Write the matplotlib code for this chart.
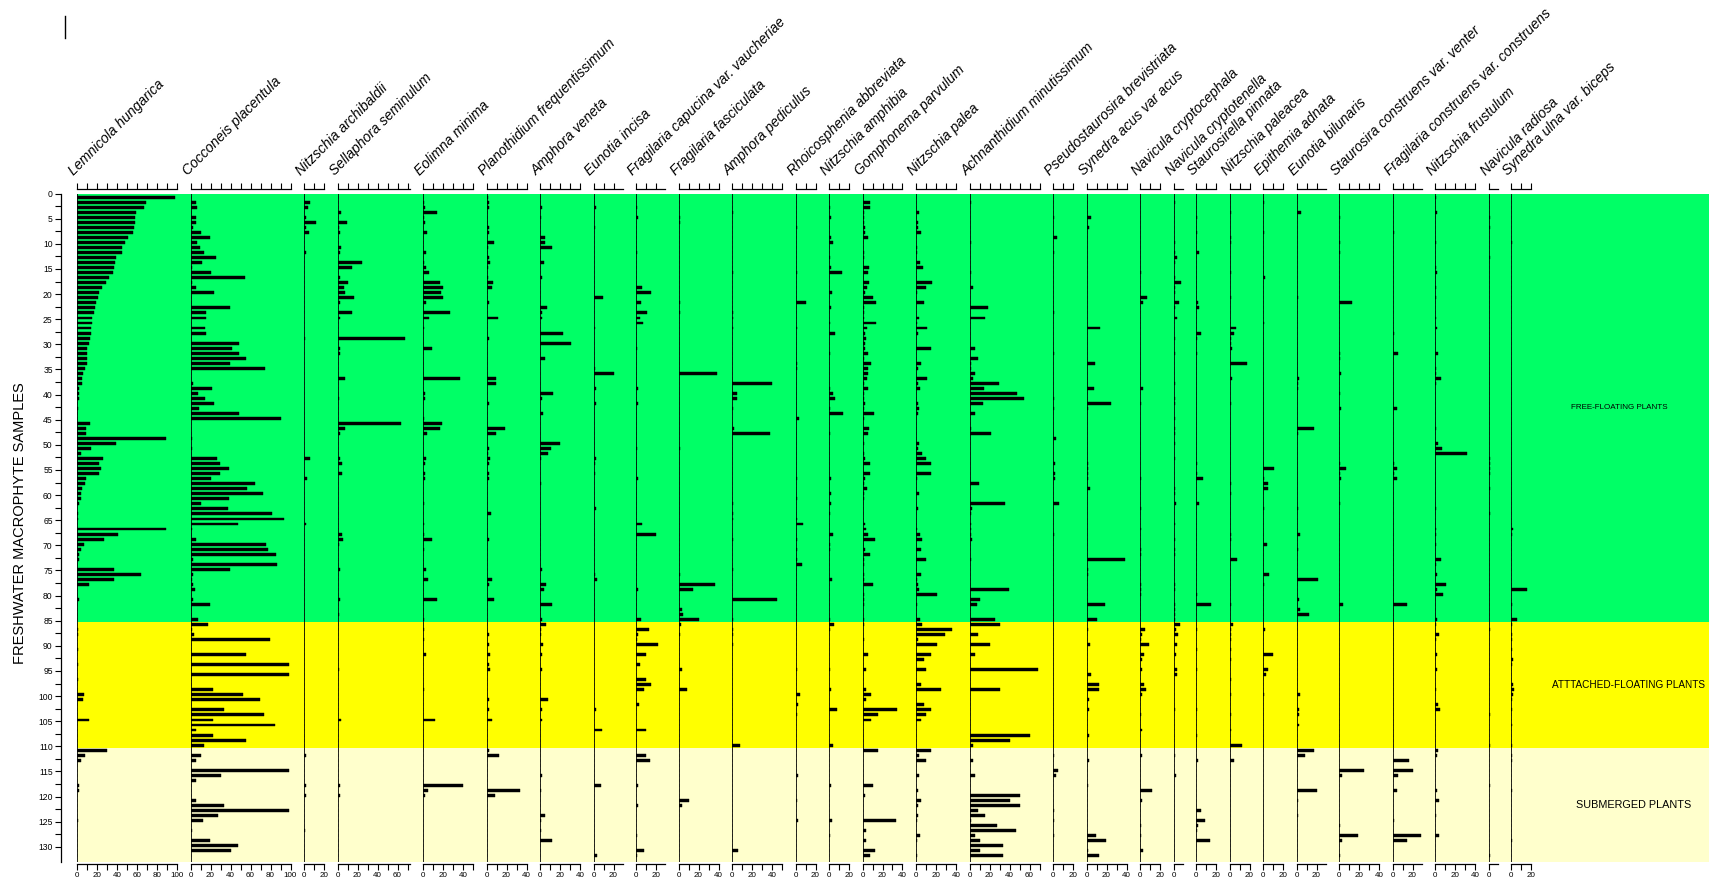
import numpy as np
import matplotlib.pyplot as plt
from matplotlib.lines import Line2D

plt.rcParams['font.family'] = ['Liberation Sans', 'DejaVu Sans']

# samples 1..132, habitat groups end at these sample numbers
n_samples = 132
samples = np.arange(1, n_samples + 1)
habitats = ['FREE-FLOATING PLANTS', 'ATTTACHED-FLOATING PLANTS', 'SUBMERGED PLANTS']
habitat_last = [85, 110, 132]
habitat_colors = ['#00ff66', '#ffff00', '#ffffcc']

taxa = ['Lemnicola hungarica', 'Cocconeis placentula', 'Nitzschia archibaldii',
        'Sellaphora seminulum', 'Eolimna minima', 'Planothidium frequentissimum',
        'Amphora veneta', 'Eunotia incisa', 'Fragilaria capucina var. vaucheriae',
        'Fragilaria fasciculata', 'Amphora pediculus', 'Rhoicosphenia abbreviata',
        'Nitzschia amphibia', 'Gomphonema parvulum', 'Nitzschia palea',
        'Achnanthidium minutissimum', 'Pseudostaurosira brevistriata',
        'Synedra acus var acus', 'Navicula cryptocephala', 'Navicula cryptotenella',
        'Staurosirella pinnata', 'Nitzschia paleacea', 'Epithemia adnata',
        'Eunotia bilunaris', 'Staurosira construens var. venter',
        'Fragilaria construens var. construens', 'Nitzschia frustulum',
        'Navicula radiosa', 'Synedra ulna var. biceps']

# axis length of each panel (percent)
ranges = [100, 100, 20, 72, 50, 40, 40, 29, 29, 40, 50, 20, 20, 40, 40, 70,
          20, 40, 20, 9, 20, 20, 20, 29, 40, 29, 40, 9, 20]

# relative abundance (%) per sample, zero where not listed
lemnicola = {1: 97.7, 2: 68.7, 3: 66.7, 4: 59.3, 5: 58, 6: 57.7, 7: 57, 8: 56.3, 9: 50.7, 10: 48.3,
             11: 45.3, 12: 44.7, 13: 38.7, 14: 37.7, 15: 36.7, 16: 35.7, 17: 32.3, 18: 29.3, 19: 25.3,
             20: 21.7, 21: 20.7, 22: 19.3, 23: 18.3, 24: 17.3, 25: 15.3, 26: 14.7, 27: 14.3, 28: 13.7,
             29: 12.7, 30: 12, 31: 10.3, 32: 10.3, 33: 10.3, 34: 10.3, 35: 8.3, 36: 6.3, 37: 5, 38: 5,
             39: 2.3, 40: 2.3, 41: 2.3, 43: 1.3, 46: 12.7, 47: 9.3, 48: 9.3, 49: 88.7, 50: 39.3,
             51: 13.7, 52: 4, 53: 26, 54: 21.7, 55: 24.3, 56: 21.7, 57: 9.3, 58: 7.7, 59: 5, 60: 4,
             61: 4, 62: 2.3, 64: 1, 65: 1, 67: 88.7, 68: 41.3, 69: 27, 70: 7.3, 71: 4, 72: 2.3, 73: 2,
             75: 36.7, 76: 64, 77: 36.7, 78: 12, 81: 2, 87: 1.3, 88: 1.3, 91: 1, 94: 1, 97: 1,
             100: 7, 101: 6, 105: 12, 111: 30, 112: 8, 113: 4, 118: 2, 119: 2, 125: 1}
cocconeis = {2: 5.3, 3: 6.3, 5: 5.7, 6: 5.3, 7: 2, 8: 10, 9: 19, 10: 6, 11: 9.3, 12: 13.3, 13: 25,
             14: 11, 15: 1.3, 16: 20.3, 17: 54, 18: 1, 19: 5.3, 20: 23.3, 23: 39, 24: 15, 25: 15,
             27: 14, 28: 15, 30: 48, 31: 41.7, 32: 48.7, 33: 55, 34: 39, 35: 74.3, 38: 2.7, 39: 21.3,
             40: 7, 41: 14.3, 42: 23, 43: 8, 44: 48.7, 45: 90, 49: 1, 51: 1.7, 53: 26, 54: 29, 55: 38,
             56: 29, 57: 20.3, 58: 64.7, 59: 56.7, 60: 72.3, 61: 38, 62: 10.7, 63: 37.3, 64: 81,
             65: 93.7, 66: 47, 67: 1, 69: 5.3, 70: 75, 71: 77, 72: 85.7, 73: 2, 74: 86.7, 75: 39,
             76: 2, 77: 1, 78: 2, 79: 4.7, 81: 2.7, 82: 19.7, 85: 7, 86: 17, 87: 1, 88: 3.7, 89: 79.3,
             92: 55, 94: 98, 96: 98, 99: 22, 100: 52, 101: 69, 103: 33, 104: 73, 105: 22, 106: 84,
             107: 5, 108: 22, 109: 55, 110: 13, 112: 10, 113: 5, 115: 98, 116: 30, 117: 5, 121: 5,
             122: 33, 123: 98, 124: 27, 125: 12.6, 127: 1.5, 129: 19.7, 130: 47, 131: 40.5}
archibaldii = {2: 5.7, 3: 3.7, 5: 2, 6: 12, 7: 2, 8: 4.7, 12: 2, 29: 1.3, 53: 5.7, 57: 3, 66: 2,
               112: 2, 118: 2, 120: 2, 127: 1}
sellaphora = {4: 3.3, 6: 9.3, 7: 1.3, 8: 2, 11: 3.3, 12: 2, 14: 24.7, 15: 14, 17: 2, 18: 10.7,
              19: 6.3, 20: 7, 21: 16.7, 22: 2, 24: 14, 25: 2, 29: 67, 31: 2, 32: 2, 37: 7, 41: 1.3,
              46: 63.3, 47: 7.7, 48: 2, 53: 2, 54: 4, 56: 4, 68: 4, 69: 5.7, 70: 1.3, 75: 2, 81: 2,
              84: 1.3, 95: 1, 105: 3, 118: 2, 120: 2}
eolimna = {2: 1.3, 3: 1.7, 4: 14, 5: 1, 6: 2.3, 8: 4, 12: 2.7, 14: 1.3, 15: 3, 16: 6, 18: 17.3,
           19: 19.7, 20: 18, 21: 19.7, 22: 2.7, 24: 27, 25: 6, 27: 1.3, 31: 9.3, 37: 37, 40: 2, 41: 2,
           45: 1.3, 46: 19, 47: 17.3, 48: 4, 53: 2.7, 54: 2, 56: 2, 57: 2, 62: 1, 66: 1, 68: 1,
           69: 9.3, 71: 1.3, 75: 2.7, 77: 4.7, 81: 14, 85: 1.3, 87: 1.3, 89: 1.3, 92: 3, 99: 1,
           105: 12, 118: 40, 119: 5, 120: 2}
planothidium = {1: 1, 2: 2, 3: 2, 4: 0.7, 7: 2, 8: 2, 10: 7.7, 11: 1, 13: 2, 14: 3, 15: 1.7, 17: 1,
                18: 6.7, 19: 5, 22: 2, 25: 11, 27: 0.7, 29: 2, 32: 0.7, 34: 0.7, 37: 9, 38: 9, 41: 0.7,
                42: 2, 47: 18, 48: 9, 49: 0.7, 51: 2, 52: 1.7, 53: 3, 54: 2, 56: 2, 57: 2, 64: 4,
                66: 0.7, 69: 2, 70: 0.7, 71: 0.7, 77: 5.7, 78: 2, 81: 7.3, 87: 0.7, 88: 2, 90: 2, 92: 3,
                94: 2, 95: 3, 101: 2, 103: 2, 105: 5, 111: 2, 112: 12, 119: 33, 120: 8}
amphora_veneta = {3: 1.7, 5: 1, 9: 5, 10: 5, 11: 12, 14: 4, 17: 2, 23: 6.7, 24: 2, 25: 2, 28: 23.3,
                  30: 31.3, 33: 5, 40: 13, 41: 2, 44: 3.3, 50: 20, 51: 11, 52: 8.3, 53: 1, 58: 1,
                  75: 2, 78: 5.7, 79: 4, 82: 12, 85: 2, 86: 5.7, 87: 1, 88: 1, 90: 3, 92: 2, 95: 2,
                  101: 8, 103: 2, 105: 2, 116: 2, 119: 1, 124: 5, 125: 1, 127: 1, 129: 11.5}
eunotia_incisa = {3: 2, 7: 1, 21: 9, 27: 1, 35: 1, 36: 20.7, 39: 2, 42: 2, 53: 2, 54: 1, 56: 1,
                  63: 2, 76: 1, 77: 3.7, 103: 2, 107: 8, 118: 7, 132: 3}
frag_capucina = {3: 1, 5: 1.7, 12: 1, 19: 5.7, 20: 14.7, 22: 4.7, 24: 10.7, 25: 3.7, 26: 6.7, 31: 1,
                 39: 1.7, 42: 1.7, 51: 1, 57: 1.7, 66: 5.7, 68: 19.7, 79: 1.7, 85: 4.7, 87: 12.7,
                 88: 1.7, 89: 0.7, 90: 22, 92: 10, 94: 4, 97: 10, 98: 15, 99: 8, 102: 3, 107: 10,
                 112: 10, 113: 14, 118: 2, 122: 2, 128: 1, 131: 8, 132: 1}
frag_fasciculata = {5: 1.3, 6: 1.7, 22: 1, 24: 1, 36: 38.3, 51: 1, 76: 1, 78: 36.3, 79: 14.3,
                    83: 3.7, 84: 4.3, 85: 20.3, 86: 2.7, 88: 1, 95: 3, 99: 8, 121: 10, 122: 3}
amphora_pediculus = {4: 1, 16: 1, 24: 0.7, 25: 0.7, 27: 0.7, 38: 40.3, 40: 5, 41: 5, 43: 1, 47: 2,
                     48: 37.7, 62: 1, 64: 1, 65: 0.7, 69: 0.7, 75: 1, 81: 44.7, 85: 0.7, 87: 0.7,
                     88: 0.7, 90: 1, 110: 8, 131: 5.5}
rhoicosphenia = {7: 1.7, 16: 1.7, 22: 10, 27: 1.7, 34: 1.7, 35: 1.7, 36: 0.7, 45: 3, 57: 1.7, 61: 1,
                 65: 1.7, 66: 7, 69: 1.7, 71: 1, 73: 1.7, 74: 6.3, 75: 0.7, 95: 1, 100: 4, 102: 2,
                 104: 1, 116: 2, 121: 1, 125: 2}
n_amphibia = {3: 1, 5: 1.7, 9: 2.3, 10: 4.3, 13: 1, 15: 1.7, 16: 13.3, 20: 2.7, 23: 1.7, 26: 1,
              28: 6, 32: 1, 39: 0.7, 40: 4, 41: 6, 43: 1, 44: 14, 48: 0.7, 57: 2.3, 60: 1.7, 62: 1.7,
              64: 1, 68: 4.3, 70: 1.3, 71: 1, 77: 3.3, 85: 1, 86: 5, 87: 0.7, 95: 1, 99: 2, 103: 8,
              110: 4, 118: 2, 125: 3, 128: 1}
gomphonema = {2: 7.3, 3: 7.3, 4: 1, 5: 1.7, 6: 1.7, 7: 2.7, 8: 2.7, 9: 5, 12: 1.7, 13: 1.7, 15: 6.7,
              16: 5, 18: 6.7, 19: 4, 20: 2.7, 21: 10, 22: 13, 23: 1.7, 24: 1.7, 25: 1, 26: 13.7,
              27: 4, 28: 2.7, 29: 3.3, 30: 2.7, 31: 2.7, 32: 5.7, 33: 1.7, 34: 8.3, 35: 5.7, 36: 5,
              37: 4, 38: 1, 39: 5.7, 40: 1.7, 41: 1.7, 42: 2.3, 43: 1, 44: 11, 45: 1.7, 47: 6.7,
              48: 5, 50: 1.7, 52: 1.7, 53: 2.7, 54: 7.3, 56: 7.3, 57: 2.7, 58: 1.7, 59: 4, 60: 1.7,
              61: 1.7, 66: 2.7, 67: 3.3, 68: 5, 69: 12, 71: 2.7, 72: 7.3, 73: 1.7, 74: 1.7, 76: 1.7,
              77: 1.7, 78: 10, 80: 1, 81: 1, 82: 1.7, 85: 1.7, 86: 1.7, 89: 1.7, 92: 5, 95: 3, 99: 3,
              100: 8, 101: 3, 103: 35, 104: 15, 105: 8, 111: 15, 118: 10, 120: 2, 125: 34, 127: 3,
              129: 3, 131: 12, 132: 7}
n_palea = {4: 3, 6: 1.7, 7: 1.7, 8: 5, 11: 1, 12: 1, 14: 4, 15: 7.3, 18: 16, 19: 10, 20: 1, 22: 8,
           25: 3, 26: 1, 27: 11, 28: 2, 31: 15.3, 34: 5, 35: 1.7, 37: 11, 38: 1.7, 39: 4, 42: 2,
           43: 3, 44: 2, 50: 2.7, 51: 1.7, 52: 6, 53: 10, 54: 15.3, 56: 15.3, 57: 1, 60: 2.7,
           63: 1.7, 67: 1, 68: 3.7, 69: 5.7, 71: 4.7, 73: 10, 76: 4.7, 77: 1, 78: 2, 79: 2.7,
           80: 21.3, 82: 1, 85: 3.7, 86: 5.7, 87: 36.3, 88: 29.3, 89: 2, 90: 20.7, 92: 15, 93: 8,
           95: 10, 98: 5, 99: 25, 102: 8, 103: 15, 104: 10, 105: 5, 111: 15, 112: 3, 113: 10,
           116: 3, 119: 2, 121: 5, 122: 2, 124: 2, 125: 1, 128: 4.4, 129: 1, 132: 1}
achnanthidium = {2: 1.7, 10: 1.3, 16: 1.3, 19: 3.3, 23: 18.7, 25: 15, 31: 5.3, 33: 8.7, 34: 1.7,
                 35: 1.3, 36: 5.3, 37: 3.7, 38: 29.3, 39: 14.3, 40: 47.7, 41: 54, 42: 13.3, 44: 5.3,
                 47: 1.3, 48: 21.3, 54: 0.7, 56: 0.7, 58: 9.7, 62: 35.3, 63: 2.7, 64: 1.7, 66: 1.3,
                 67: 1.3, 68: 1.3, 69: 2.3, 72: 0.7, 73: 1.3, 78: 0.7, 79: 39.7, 81: 10.7, 82: 7.7,
                 85: 25.7, 86: 30, 87: 0.7, 88: 8, 89: 0.7, 90: 20, 92: 5, 95: 68, 99: 30, 108: 60,
                 109: 40, 110: 3, 113: 3, 116: 5, 120: 50, 121: 40, 122: 50, 123: 8, 124: 15,
                 125: 1, 126: 27, 127: 46, 128: 5, 129: 10, 130: 33, 131: 10, 132: 33}
pseudostaurosira = {5: 0.7, 9: 4.3, 12: 0.7, 24: 0.7, 32: 0.7, 41: 0.7, 43: 1.3, 49: 3.3, 54: 1.7,
                    56: 1.7, 57: 2.3, 62: 6, 68: 0.7, 112: 1, 115: 5, 116: 3, 123: 1, 125: 1,
                    128: 1}
synedra_acus = {5: 4.7, 7: 2.7, 14: 0.7, 17: 0.7, 19: 0.7, 26: 0.7, 27: 13.3, 34: 8, 39: 7.3,
                42: 24, 43: 1.3, 54: 1.7, 55: 1, 56: 1, 57: 1, 59: 3.3, 66: 0.7, 70: 0.7, 73: 38,
                75: 1, 76: 1, 82: 18.7, 85: 10.3, 87: 1.3, 90: 3, 96: 4, 98: 12, 99: 12, 101: 2,
                103: 2, 108: 2, 113: 2, 118: 1, 128: 9, 129: 19, 131: 1, 132: 12}
nav_cryptocephala = {16: 0.7, 21: 7, 22: 2.7, 39: 2.7, 42: 1.3, 57: 0.7, 63: 0.5, 67: 0.5, 71: 0.5,
                     72: 0.5, 78: 1, 79: 1, 80: 0.7, 87: 5, 88: 1.7, 89: 1.3, 90: 8.7, 92: 4, 93: 2,
                     95: 2, 98: 4, 99: 6, 100: 2, 104: 1, 107: 2, 112: 2, 119: 12, 121: 2, 126: 1,
                     128: 0.7, 131: 3}
nav_cryptotenella = {2: 1, 10: 1, 12: 1.3, 13: 3, 14: 1.7, 17: 1, 18: 7, 19: 1.7, 20: 1, 22: 5.7,
                     23: 1, 25: 3, 29: 1.7, 32: 1, 38: 1.7, 41: 1, 42: 1.7, 45: 1, 47: 1, 48: 1.7,
                     50: 1, 53: 1.7, 59: 1, 60: 1.3, 62: 2, 64: 0.7, 65: 0.7, 66: 1, 69: 1.3, 71: 1,
                     72: 1, 78: 1, 79: 1, 82: 1, 83: 1, 84: 1, 85: 1, 86: 6.7, 87: 2, 88: 4.7, 90: 3,
                     92: 2, 95: 3, 96: 3, 103: 1, 112: 1, 116: 2, 127: 0.7, 129: 0.7, 130: 0.7}
staurosirella = {5: 1, 8: 1.3, 12: 3, 22: 1.7, 23: 2.7, 28: 5.3, 29: 1, 32: 1.3, 54: 1, 56: 1,
                 57: 6.7, 62: 3, 80: 1, 82: 14.7, 87: 1.3, 91: 1, 95: 1, 103: 1, 108: 1, 113: 2,
                 123: 5, 125: 9, 126: 1.5, 127: 1, 129: 14}
n_paleacea = {4: 1.3, 9: 1.3, 10: 1.7, 16: 1.7, 21: 1.7, 27: 6, 28: 4.7, 29: 1.7, 30: 1.7, 31: 2.3,
              34: 17, 37: 2.3, 42: 1, 52: 0.7, 58: 1.7, 60: 1.7, 68: 1.7, 69: 1.7, 71: 0.7, 73: 7,
              74: 0.7, 82: 1.7, 86: 3.3, 87: 1.7, 88: 1.7, 89: 1.7, 91: 1, 93: 1, 97: 1, 100: 1,
              104: 1, 107: 1, 110: 12, 113: 4, 125: 0.7, 127: 0.7, 128: 0.7}
epithemia = {2: 1, 8: 1, 17: 1.7, 26: 0.7, 55: 10.7, 57: 1.3, 58: 4.7, 59: 4.7, 63: 1.3, 70: 3.7,
             76: 5.7, 78: 1, 87: 1.7, 92: 10, 95: 5, 96: 3, 100: 1}
eunotia_bilunaris = {4: 4, 21: 1.7, 31: 0.7, 37: 2.7, 38: 1.7, 39: 1.7, 47: 17, 48: 1.7, 63: 1.7,
                     68: 3.3, 71: 1.7, 74: 0.7, 77: 21, 81: 2.7, 83: 3, 84: 12.3, 100: 3, 103: 2,
                     104: 2, 106: 2, 111: 17, 112: 8, 119: 20, 121: 1, 124: 1}
staurosira_construens = {5: 1, 10: 1.3, 12: 1, 22: 12.7, 32: 1.3, 33: 0.7, 36: 2, 40: 0.7, 43: 2.3,
                         54: 0.7, 55: 7.3, 56: 0.7, 57: 2.3, 62: 0.7, 82: 3.7, 115: 25, 116: 3,
                         126: 1, 128: 18.7, 129: 3, 132: 1}
fragilaria_construens = {8: 1, 28: 1, 32: 5, 43: 4, 54: 1, 55: 4, 56: 1, 57: 4, 70: 0.7, 78: 0.7,
                         82: 14, 113: 16, 115: 20, 116: 5, 119: 4, 125: 1, 128: 28.5, 129: 14}
n_frustulum = {1: 1, 4: 2, 10: 0.7, 15: 0.7, 16: 1.7, 19: 0.7, 21: 0.7, 25: 0.7, 27: 1.7, 32: 3.3,
               35: 0.7, 36: 0.7, 37: 5.7, 38: 0.7, 47: 1.3, 50: 3.3, 51: 7.3, 52: 32, 63: 1.3,
               67: 0.7, 68: 1.3, 70: 0.7, 73: 5.7, 74: 1, 76: 1.7, 78: 10.7, 79: 1.7, 80: 8.3,
               85: 2.3, 86: 1.3, 88: 3.7, 89: 1.3, 92: 2, 95: 2, 99: 1, 102: 3, 103: 5, 111: 3,
               112: 2, 119: 2, 121: 4, 124: 1, 128: 4}
navicula_radiosa = {2: 0.7, 5: 1, 7: 1.3, 8: 0.7, 10: 0.7, 13: 1.3, 20: 0.7, 22: 0.7, 25: 0.7,
                    35: 0.7, 36: 0.7, 42: 0.7, 45: 0.7, 47: 0.7, 53: 1.3, 54: 1, 55: 1, 56: 1, 59: 1,
                    64: 1, 70: 0.7, 71: 0.7, 78: 0.7, 81: 0.7, 87: 1.7, 89: 0.7, 104: 1, 110: 1,
                    118: 1, 132: 1}
synedra_ulna = {10: 1, 67: 2, 68: 1.3, 79: 16, 82: 0.7, 85: 6.3, 86: 1.3, 88: 1.3, 89: 0.7, 91: 1,
                93: 2, 94: 1, 98: 2, 99: 3, 100: 2, 101: 1, 103: 1, 106: 1, 110: 1, 112: 1, 113: 1,
                119: 1, 129: 0.7}

counts = [lemnicola, cocconeis, archibaldii, sellaphora, eolimna, planothidium, amphora_veneta,
          eunotia_incisa, frag_capucina, frag_fasciculata, amphora_pediculus, rhoicosphenia,
          n_amphibia, gomphonema, n_palea, achnanthidium, pseudostaurosira, synedra_acus,
          nav_cryptocephala, nav_cryptotenella, staurosirella, n_paleacea, epithemia,
          eunotia_bilunaris, staurosira_construens, fragilaria_construens, n_frustulum,
          navicula_radiosa, synedra_ulna]

# ---- layout in pixels ----
W, H = 1709, 882
TOP, BOTTOM = 193.6, 861.5
ROW = 5.025              # pixels per sample
X0, GAP = 77, 13.5       # first panel, gap between panels (1 px per percent)
ymax = (BOTTOM - TOP) / ROW
ypos = samples - 0.25

fig = plt.figure(figsize=(W / 100, H / 100), dpi=100)


def px_axes(x0, x1, y0, y1):
    return fig.add_axes([x0 / W, 1 - y1 / H, (x1 - x0) / W, (y1 - y0) / H])


# habitat bands
bg = px_axes(X0, W, TOP, BOTTOM)
bg.set_xlim(0, 1)
bg.set_ylim(ymax, 0)
bg.axis('off')
edges = [0] + [s + 0.25 for s in habitat_last[:-1]] + [ymax]
label_x = [0.945, 0.904, 0.954]
label_ha = ['center', 'left', 'center']
label_size = [5.8, 7.2, 7.8]
for i, name in enumerate(habitats):
    bg.axhspan(edges[i], edges[i + 1], color=habitat_colors[i], lw=0, zorder=0)
    bg.text(label_x[i], (edges[i] + edges[i + 1]) / 2, name, ha=label_ha[i], va='center',
            fontsize=label_size[i], clip_on=False)

# y axis
ya = px_axes(61, 62, TOP, BOTTOM)
ya.set_ylim(ymax, 0)
ya.patch.set_visible(False)
for s in ['top', 'right', 'bottom']:
    ya.spines[s].set_visible(False)
ya.spines['left'].set_linewidth(0.9)
ya.set_xticks([])
ya.set_yticks(np.arange(0, 131, 5))
ya.set_yticks(np.arange(2.5, 132, 5), minor=True)
ya.tick_params(axis='y', which='both', length=4, width=0.8, labelsize=6.2, pad=2)
fig.text(20 / W, 1 - 523 / H, 'FRESHWATER MACROPHYTE SAMPLES', rotation=90,
         ha='center', va='center', fontsize=10.5)

# taxon panels
xs = X0
for name, rng, d in zip(taxa, ranges, counts):
    vals = np.array([d.get(int(s), 0) for s in samples])
    ax = px_axes(xs, xs + rng, TOP, BOTTOM)
    ax.patch.set_visible(False)
    ax.set_xlim(0, rng)
    ax.set_ylim(ymax, 0)
    ax.barh(ypos, vals, height=0.58, color='black', edgecolor='black', lw=0.3)
    ax.axvline(0, color='black', lw=1.2)
    for s in ['left', 'right']:
        ax.spines[s].set_visible(False)
    ax.spines['top'].set_position(('outward', 3))
    ax.spines['bottom'].set_position(('outward', 1.5))
    for s in ['top', 'bottom']:
        ax.spines[s].set_linewidth(0.9)
    ticks = np.arange(0, rng + 0.01, 10)
    ax.set_xticks(ticks)
    ax.set_xticklabels([f'{t:.0f}' if t % 20 == 0 else '' for t in ticks])
    ax.set_yticks([])
    ax.tick_params(axis='x', top=True, bottom=True, labeltop=False, direction='out',
                   length=4.5, width=0.8, labelsize=5.8, pad=1.5)
    fig.text((xs - 3) / W, 1 - 176 / H, name, rotation=45, rotation_mode='anchor',
             ha='left', va='baseline', style='italic', fontsize=10)
    xs += rng + GAP

fig.add_artist(Line2D([65 / W, 65 / W], [1 - 16 / H, 1 - 38 / H], color='black', lw=1))

fig.savefig('out.png', dpi=100)
